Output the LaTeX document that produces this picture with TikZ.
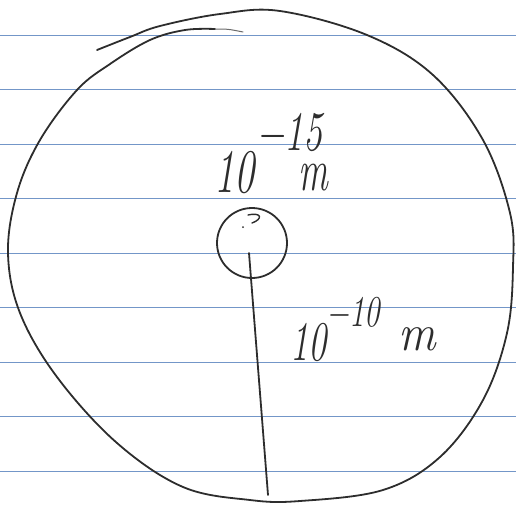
\documentclass[tikz,border=0pt]{standalone}
\usepackage{graphicx}
\definecolor{ruleblue}{RGB}{115,150,200}
\definecolor{pencil}{RGB}{45,45,45}
\newcommand{\handsize}[1]{\fontsize{#1}{#1}\selectfont\itshape}
\begin{document}
\begin{tikzpicture}[x=1pt,y=-1pt,
	pen/.style={line width=1.8pt,color=pencil,line cap=round,line join=round},
	ruled/.style={line width=0.8pt,color=ruleblue},
	handtext/.style={inner sep=0pt,color=pencil,anchor=base west}]
		\useasboundingbox (0,0) rectangle (516,504);

		% Paper lines
		\foreach \y in {35,89.5,144,198.5,253,307.5,362,416.5,471}
			\draw[ruled] (0,\y) -- (516,\y);

		% Atom
		\draw[pen,smooth,tension=0.6] plot coordinates {(97,50) (130,37) (160,26) (220,14) (280,11) (367,35) (433,75) (483,140) (510,213) (513,267) (507,333) (483,400) (440,457) (383,490) (300,501) (250,500) (183,487) (117,443) (57,377) (20,313) (8,253) (17,193) (40,140) (77,90) (110,64) (150,40) (185,30) (215,29)};
		\draw[pen,line width=1pt,color=pencil!70] (215,29) .. controls (228,29) .. (243,32);

		% Nucleus
		\node[pen,draw,circle,minimum size=70pt] (nucleus) at (252,243) {};
		\draw[pen,line width=1.4pt] (248,215) .. controls (262,212) and (263,219) .. (252,223);
		\fill[pencil] (243,227) circle (1pt);

		% Radius of the atom
		\coordinate (stem) at (249,253);
		\coordinate (rim) at (268,495);
		\draw[pen] (stem) -- (rim);

		% Label of the nucleus
		\node[handtext] (nucbase) at (214,192) {\scalebox{0.65}[1]{\handsize{62}10}};
		\node[handtext] (nucexp) at (256,150) {\scalebox{0.68}[1]{\handsize{56}−15}};
		\node[handtext] (nucunit) at (298,190) {\scalebox{0.62}[1]{\handsize{60}m}};

		% Label of the atom
		\node[handtext] (atombase) at (290,360) {\scalebox{0.65}[1]{\handsize{56}10}};
		\node[handtext] (atomexp) at (326,326) {\scalebox{0.7}[1]{\handsize{44}−10}};
		\node[handtext] (atomunit) at (398,350) {\scalebox{0.9}[1]{\handsize{52}m}};

		\end{tikzpicture}
\end{document}
